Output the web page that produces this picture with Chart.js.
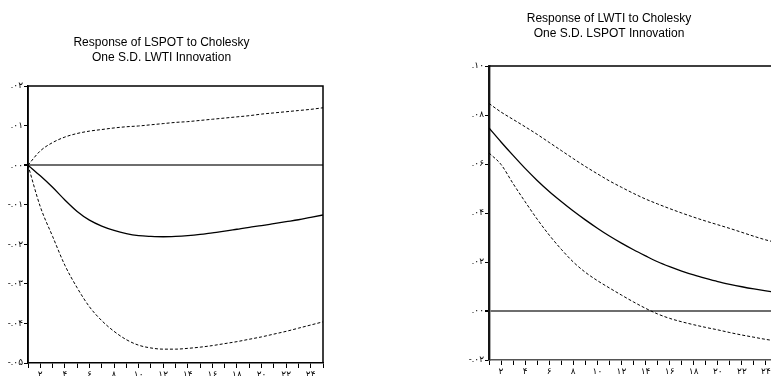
<!DOCTYPE html>
<html>
<head>
<meta charset="utf-8">
<script src="https://cdn.jsdelivr.net/npm/chart.js@4"></script>
<style>
  html, body { margin: 0; padding: 0; background: #fff; width: 771px; height: 376px; overflow: hidden; }
  canvas { position: absolute; top: 0; }
  #left { left: 0; }
  #right { left: 440px; }
</style>
</head>
<body>
<canvas id="left" width="340" height="376"></canvas>
<canvas id="right" width="360" height="376"></canvas>
<script>
// periods 1..25
const periods = [1, 2, 3, 4, 5, 6, 7, 8, 9, 10, 11, 12, 13, 14, 15, 16, 17, 18, 19, 20, 21, 22, 23, 24, 25];

// Response of LSPOT to Cholesky One S.D. LWTI Innovation
const lspotResp = [0, -0.0027, -0.0056, -0.0088, -0.0117, -0.0139, -0.0154, -0.0165, -0.0173, -0.0178, -0.0180, -0.0181, -0.0180, -0.0178, -0.0175, -0.0171, -0.0167, -0.0162, -0.0157, -0.0153, -0.0148, -0.0143, -0.0138, -0.0132, -0.0126];
const lspotUpper = [0, 0.0036, 0.0057, 0.0071, 0.0080, 0.0086, 0.0090, 0.0094, 0.0097, 0.0099, 0.0102, 0.0105, 0.0108, 0.0110, 0.0113, 0.0116, 0.0119, 0.0122, 0.0125, 0.0129, 0.0132, 0.0135, 0.0138, 0.0141, 0.0145];
const lspotLower = [0, -0.0105, -0.0180, -0.0253, -0.0310, -0.0358, -0.0393, -0.0420, -0.0441, -0.0455, -0.0462, -0.0465, -0.0465, -0.0463, -0.0460, -0.0456, -0.0451, -0.0446, -0.0440, -0.0434, -0.0427, -0.0420, -0.0412, -0.0404, -0.0396];

// Response of LWTI to Cholesky One S.D. LSPOT Innovation
const lwtiResp = [0.0747, 0.0690, 0.0635, 0.0582, 0.0533, 0.0488, 0.0447, 0.0408, 0.0372, 0.0338, 0.0306, 0.0277, 0.0250, 0.0225, 0.0201, 0.0181, 0.0163, 0.0147, 0.0133, 0.0120, 0.0109, 0.0099, 0.0090, 0.0082, 0.0075];
const lwtiUpper = [0.0847, 0.0812, 0.0782, 0.0752, 0.0721, 0.0688, 0.0655, 0.0622, 0.0590, 0.0560, 0.0531, 0.0505, 0.0480, 0.0457, 0.0437, 0.0418, 0.0400, 0.0383, 0.0367, 0.0352, 0.0337, 0.0321, 0.0305, 0.0290, 0.0278];
const lwtiLower = [0.0645, 0.0598, 0.0520, 0.0446, 0.0375, 0.0310, 0.0252, 0.0200, 0.0158, 0.0124, 0.0094, 0.0065, 0.0037, 0.0011, -0.0012, -0.0030, -0.0044, -0.0056, -0.0067, -0.0077, -0.0088, -0.0098, -0.0107, -0.0116, -0.0123];

const leftTitle = ['Response of LSPOT to Cholesky', 'One S.D. LWTI Innovation'];
const rightTitle = ['Response of LWTI to Cholesky', 'One S.D. LSPOT Innovation'];

const faDigits = ['۰', '۱', '۲', '۳', '۴', '۵', '۶', '۷', '۸', '۹'];
const toFa = (s) => String(s).replace(/[0-9]/g, d => faDigits[+d]);

const xLabel = (v) => (v % 2 === 0 && v <= 24) ? toFa(v) : '';
const yLabel = (v) => {
  const n = Math.round(v * 100);
  const s = String(Math.abs(n)).padStart(2, '0');
  return (n < 0 ? '-' : '') + '.' + toFa(s);
};

const tickFont = { family: "'Liberation Sans', 'DejaVu Sans', sans-serif", size: 9 };
const titleFont = { family: "'Liberation Sans Narrow', 'Liberation Sans', Arial, sans-serif", size: 12, weight: 'normal', lineHeight: 1.25 };

// box around the plot area (left, top, right edges)
const framePlugin = {
  id: 'frame',
  afterDatasetsDraw(chart, args, opts) {
    const { ctx, chartArea: a } = chart;
    ctx.save();
    ctx.strokeStyle = opts.color || '#000';
    ctx.lineWidth = opts.width || 1.5;
    ctx.beginPath();
    ctx.moveTo(a.left, a.bottom);
    ctx.lineTo(a.left, a.top);
    ctx.lineTo(a.right, a.top);
    ctx.lineTo(a.right, a.bottom);
    ctx.stroke();
    ctx.restore();
  }
};

function makeChart(id, cfg) {
  const line = (data, dashed) => ({
    data: periods.map((p, i) => ({ x: p, y: data[i] })),
    borderColor: '#000',
    borderWidth: dashed ? 1 : 1.3,
    borderDash: dashed ? [3, 2] : [],
    pointRadius: 0,
    cubicInterpolationMode: 'monotone',
    fill: false,
  });

  return new Chart(document.getElementById(id), {
    type: 'line',
    data: {
      datasets: [line(cfg.upper, true), line(cfg.resp, false), line(cfg.lower, true)],
    },
    options: {
      responsive: false,
      animation: false,
      layout: { padding: cfg.padding },
      plugins: {
        legend: { display: false },
        tooltip: { enabled: false },
        title: {
          display: true,
          text: cfg.title,
          color: '#000',
          font: titleFont,
          padding: cfg.titlePadding,
        },
        frame: { color: '#000', width: 1.5 },
      },
      scales: {
        x: {
          type: 'linear',
          min: 1,
          max: 25,
          afterFit: (s) => { s.height = cfg.xHeight; },
          border: { color: cfg.axisColor, width: 1.5 },
          grid: { drawOnChartArea: false, tickLength: 5, tickColor: '#000' },
          ticks: { stepSize: 1, autoSkip: false, maxRotation: 0, padding: 1, color: '#000', font: tickFont, callback: xLabel },
        },
        y: {
          min: cfg.yMin,
          max: cfg.yMax,
          afterFit: (s) => { s.width = cfg.yWidth; },
          border: { color: cfg.axisColor, width: cfg.axisWidth },
          grid: {
            color: (c) => Math.abs(c.tick.value) < 1e-9 ? '#6e6e6e' : 'rgba(0,0,0,0)',
            lineWidth: (c) => Math.abs(c.tick.value) < 1e-9 ? 2 : 1,
            tickColor: '#000',
            tickLength: 4,
          },
          ticks: { stepSize: cfg.yStep, padding: 1, color: '#000', font: tickFont, callback: yLabel },
        },
      },
    },
    plugins: [framePlugin],
  });
}

makeChart('left', {
  title: leftTitle,
  resp: lspotResp, upper: lspotUpper, lower: lspotLower,
  yMin: -0.05, yMax: 0.02, yStep: 0.01,
  yWidth: 28, xHeight: 13,
  padding: { left: 0, right: 17, top: 0, bottom: 0 },
  titlePadding: { top: 35, bottom: 21 },
  axisColor: '#000', axisWidth: 1.5,
});

makeChart('right', {
  title: rightTitle,
  resp: lwtiResp, upper: lwtiUpper, lower: lwtiLower,
  yMin: -0.02, yMax: 0.10, yStep: 0.02,
  yWidth: 49, xHeight: 16,
  padding: { left: 0, right: 22, top: 0, bottom: 0 },
  titlePadding: { top: 11, bottom: 25 },
  axisColor: '#555', axisWidth: 2.5,
});
</script>
</body>
</html>
